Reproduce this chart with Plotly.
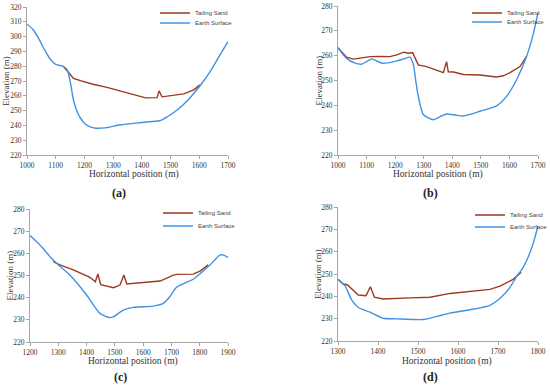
import plotly.graph_objects as go

# ---------------- Data ----------------
# Panel (a)
a_earth_x = [1000, 1020, 1040, 1060, 1080, 1100, 1127, 1140, 1150, 1162, 1175, 1186, 1200, 1220, 1240, 1270, 1325, 1400, 1465, 1490, 1523, 1560, 1602, 1640, 1670, 1700]
a_earth_y = [308.4, 305, 299, 291.5, 285, 281.2, 279.8, 277.5, 270, 257, 249, 245, 241.5, 239, 238.1, 238.3, 240.4, 242, 243.3, 246, 250.4, 257, 266.6, 277, 287, 296.6]
a_sand_x = [1127, 1145, 1162, 1186, 1230, 1279, 1350, 1413, 1453, 1460, 1470, 1511, 1546, 1581, 1602]
a_sand_y = [279.8, 276, 271.8, 270.2, 267.8, 265.7, 262, 258.6, 258.8, 263.3, 259.3, 260.6, 261.3, 264, 267.4]

# Panel (b)
b_earth_x = [1000, 1030, 1060, 1083, 1100, 1118, 1140, 1159, 1180, 1205, 1230, 1252, 1264, 1272, 1281, 1299, 1334, 1360, 1381, 1410, 1439, 1497, 1555, 1590, 1625, 1660, 1684, 1700]
b_earth_y = [263.2, 258.9, 257, 256.6, 257.6, 258.7, 257.6, 256.9, 257.2, 257.9, 258.7, 259.4, 256.3, 250, 243.6, 236.2, 234.2, 235.6, 236.5, 236.1, 235.7, 237.6, 239.8, 243.6, 250.3, 259.7, 269, 277.3]
b_sand_x = [1000, 1030, 1054, 1080, 1112, 1150, 1182, 1205, 1231, 1246, 1261, 1270, 1281, 1310, 1345, 1369, 1380, 1386, 1404, 1439, 1497, 1555, 1579, 1602, 1637, 1660]
b_sand_y = [263.2, 259.4, 258.6, 259, 259.6, 259.7, 259.6, 260.3, 261.4, 261, 261.3, 259, 256.3, 255.6, 254, 253.2, 257.6, 253.5, 253.4, 252.4, 252.2, 251.4, 251.9, 253.2, 255.6, 259.7]

# Panel (c)
c_earth_x = [1200, 1235, 1271, 1294, 1341, 1400, 1447, 1483, 1495, 1530, 1565, 1636, 1671, 1695, 1718, 1777, 1806, 1836, 1871, 1885, 1900]
c_earth_y = [268, 263.8, 258.5, 255.5, 250.2, 241.2, 232.9, 231, 231.4, 234.4, 235.6, 236.2, 237.4, 240.5, 244.7, 248.3, 251.3, 254.7, 259.2, 259.2, 258.2]
c_sand_x = [1282, 1306, 1353, 1412, 1431, 1440, 1450, 1483, 1495, 1518, 1532, 1542, 1589, 1660, 1707, 1718, 1777, 1801, 1830]
c_sand_y = [256.3, 254.8, 252.5, 249.2, 247.2, 250.7, 245.9, 244.7, 244.5, 245.7, 250.2, 246.2, 246.8, 247.5, 250.2, 250.5, 250.6, 252, 254.8]

# Panel (d)
d_earth_x = [1300, 1318, 1334, 1351, 1380, 1413, 1447, 1513, 1547, 1580, 1630, 1680, 1705, 1730, 1747, 1759, 1776, 1788, 1800]
d_earth_y = [247.6, 244.6, 238.4, 235, 232.9, 230.2, 229.9, 229.6, 231, 232.5, 234, 236, 239.1, 244, 249.1, 251.8, 257.8, 263.7, 271.5]
d_sand_x = [1300, 1313, 1323, 1338, 1351, 1370, 1381, 1391, 1413, 1480, 1530, 1580, 1630, 1680, 1705, 1738, 1758]
d_sand_y = [247.6, 245.5, 245.2, 242.8, 240.6, 240.3, 244.3, 239.6, 238.8, 239.3, 239.6, 241.3, 242.2, 243.1, 244.6, 247.6, 250.8]

x_ranges = [(1000, 1700), (1000, 1700), (1200, 1900), (1300, 1800)]
y_ranges = [(220, 320), (220, 280), (220, 280), (220, 280)]
y_dticks = [10, 10, 10, 10]
x_dtick = 100
panel_labels = ["(a)", "(b)", "(c)", "(d)"]
series_names = ["Tailing Sand", "Earth Surface"]

SAND_COLOR = "#9b3a1e"
EARTH_COLOR = "#3f92e4"

W, H = 550, 387

def px_x(v):
    return v / W

def px_y(v):
    return 1 - v / H

# plot-area domains in pixels (left, right, top, bottom)
dom_px = [(27, 228, 7, 155), (338, 538, 6, 155), (30, 228, 209, 342), (338, 538, 207, 341)]

fig = go.Figure()

data = [
    (a_sand_x, a_sand_y, a_earth_x, a_earth_y),
    (b_sand_x, b_sand_y, b_earth_x, b_earth_y),
    (c_sand_x, c_sand_y, c_earth_x, c_earth_y),
    (d_sand_x, d_sand_y, d_earth_x, d_earth_y),
]

# legend entry positions (left x, centre y of each entry) in pixels
legend_x_px = [155, 467, 158, 470]
legend_y_px = [(13, 23), (13, 22), (213, 226), (215, 227)]

serif = "Liberation Serif, Times New Roman, serif"

for i, (sx, sy, ex, ey) in enumerate(data):
    n = "" if i == 0 else str(i + 1)
    xa = "x" + n
    ya = "y" + n
    lg1 = "legend" + ("" if i == 0 else str(2 * i + 1))
    lg2 = "legend" + str(2 * i + 2)
    fig.add_trace(go.Scatter(x=sx, y=sy, mode="lines", name=series_names[0],
                             line=dict(color=SAND_COLOR, width=1.4),
                             xaxis=xa, yaxis=ya, legend=lg1))
    fig.add_trace(go.Scatter(x=ex, y=ey, mode="lines", name=series_names[1],
                             line=dict(color=EARTH_COLOR, width=1.4, shape="spline", smoothing=0.6),
                             xaxis=xa, yaxis=ya, legend=lg2))
    l, r, t, b = dom_px[i]
    axcommon = dict(showgrid=False, zeroline=False, showline=True, linecolor="#a6a6a6",
                    linewidth=1, ticks="outside", ticklen=3, tickcolor="#a6a6a6",
                    tickfont=dict(family=serif, size=7.5, color="#333333"))
    fig.layout["xaxis" + n] = dict(domain=[px_x(l), px_x(r)], range=list(x_ranges[i]),
                                   dtick=x_dtick, anchor=ya, **axcommon)
    fig.layout["yaxis" + n] = dict(domain=[px_y(b), px_y(t)], range=list(y_ranges[i]),
                                   dtick=y_dticks[i], anchor=xa, **axcommon)
    for lg, yy in zip((lg1, lg2), legend_y_px[i]):
        fig.layout[lg] = dict(x=px_x(legend_x_px[i]), y=px_y(yy), xanchor="left", yanchor="middle",
                              bgcolor="rgba(0,0,0,0)",
                              font=dict(family="Arial, Liberation Sans", size=6, color="#444444"),
                              itemwidth=30, tracegroupgap=0)

# axis titles and panel labels as annotations
xt_y = [174, 174, 361, 361]
xt_dx = [6, 0, 4, 9]
lab_y = [193, 193, 377, 377]
lab_dx = [-9, -8, -9, -8]
yt_x = [6, 318, 9, 318]
for i in range(4):
    l, r, t, b = dom_px[i]
    cx = (l + r) / 2
    fig.add_annotation(x=px_x(cx + xt_dx[i]), y=px_y(xt_y[i]), xref="paper", yref="paper",
                       xanchor="center", yanchor="middle",
                       text="Horizontal position (m)", showarrow=False,
                       font=dict(family=serif, size=9.5, color="#333333"))
    fig.add_annotation(x=px_x(cx + lab_dx[i]), y=px_y(lab_y[i]), xref="paper", yref="paper",
                       xanchor="center", yanchor="middle",
                       text="<b>" + panel_labels[i] + "</b>", showarrow=False,
                       font=dict(family=serif, size=12, color="#222222"))
    fig.add_annotation(x=px_x(yt_x[i]), y=px_y((t + b) / 2), xref="paper", yref="paper",
                       xanchor="center", yanchor="middle",
                       text="Elevation (m)", showarrow=False, textangle=-90,
                       font=dict(family=serif, size=9, color="#333333"))

fig.update_layout(width=W, height=H, margin=dict(l=0, r=0, t=0, b=0, autoexpand=False),
                  paper_bgcolor="white", plot_bgcolor="white", showlegend=True)

fig.write_html("out.html", config={"displayModeBar": False},
               post_script="document.body.style.margin='0';document.body.style.overflow='hidden';")
